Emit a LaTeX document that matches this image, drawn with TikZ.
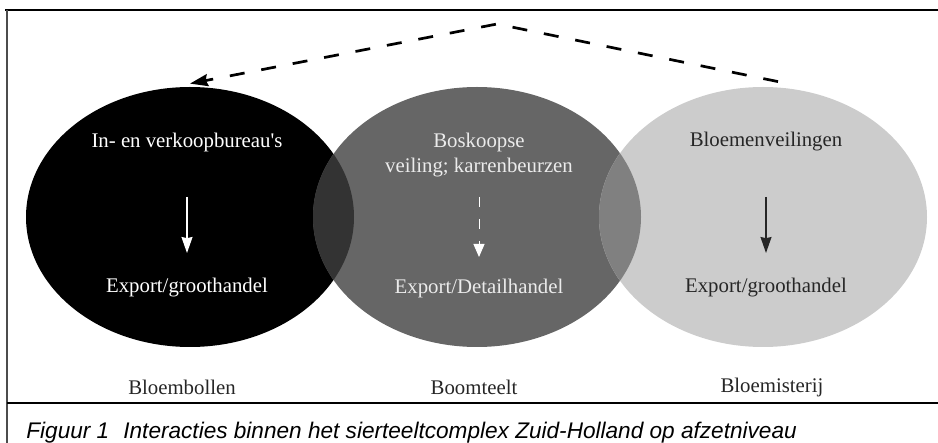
\documentclass[tikz,border=0pt]{standalone}
\usepackage{fontspec}
\setmainfont{Liberation Serif}[Ligatures=TeXOff]
\newfontfamily\figcapfont{Liberation Sans}
\usetikzlibrary{arrows.meta,shapes.geometric}
\definecolor{bollengray}{gray}{0}
\definecolor{boomgray}{gray}{0.4}
\definecolor{bloemgray}{gray}{0.8}
\definecolor{leftlap}{gray}{0.2}
\definecolor{rightlap}{gray}{0.5}
\tikzset{
	sector/.style={ellipse, minimum width=164pt, minimum height=130pt, inner sep=0pt},
	intext/.style={font=\fontsize{10.4}{12.5}\selectfont, align=center, inner sep=0pt},
	captext/.style={anchor=west, inner sep=0pt, font=\figcapfont\itshape\fontsize{11.3}{13}\selectfont},
	downarrow/.style={line width=0.65pt, -{Stealth[length=8pt, width=5.5pt, inset=0.6pt]}},
	topdash/.style={line width=1.35pt, dash pattern=on 7.5pt off 8.5pt, -{Stealth[length=9pt, width=6pt, inset=1pt]}}
}

\begin{document}
\begin{tikzpicture}[x=0.5pt, y=-0.5pt]
			%%%%% START %%%%%
			\useasboundingbox (0,0) rectangle (938,443);
			
			\draw[line width=1pt] (5,10) -- (938,10);
			\draw[line width=0.75pt, color=black!70] (7,10) -- (7,443);
			\draw[line width=1pt] (7,403) -- (938,403);
			
			\node[sector, fill=bollengray] (bollen) at (190,217) {};
			\node[sector, fill=boomgray] (boom) at (477,217) {};
			\node[sector, fill=bloemgray] (bloem) at (763,217) {};
			
			\begin{scope}
				\clip (bollen.center) ellipse [x radius=164, y radius=130];
				\fill[leftlap] (boom.center) ellipse [x radius=164, y radius=130];
			\end{scope}
			\begin{scope}
				\clip (boom.center) ellipse [x radius=164, y radius=130];
				\fill[rightlap] (bloem.center) ellipse [x radius=164, y radius=130];
			\end{scope}
			
			\node[intext, text=white] (bolin) at (187,143) {In- en verkoopbureau's};
			\node[intext, text=white] (bolex) at (187,288) {Export/groothandel};
			\draw[downarrow, white, shorten <=27pt, shorten >=17.5pt] (bolin.center) -- (bolex.center);
			
			\node[intext, text=white!92!black] (boomin) at (479,155) {Boskoopse\\veiling; karrenbeurzen};
			\node[intext, text=white!92!black] (boomex) at (479,288) {Export/Detailhandel};
			\draw[line width=0.5pt, white, dash pattern=on 5pt off 6pt, -{Triangle[length=6.5pt, width=5.5pt]}, shorten <=21pt, shorten >=15.5pt] (boomin.center) -- (boomex.center);
			
			\node[intext, text=black!85] (bloemin) at (766,142) {Bloemenveilingen};
			\node[intext, text=black!85] (bloemex) at (766,288) {Export/groothandel};
			\draw[downarrow, black!85, shorten <=27.5pt, shorten >=17.5pt] (bloemin.center) -- (bloemex.center);
			
			\coordinate (peak) at (497,24);
			\draw[topdash] ([xshift=7.5pt, yshift=2.5pt]bloem.north) -- (peak) -- ([yshift=1.5pt]bollen.north);
			
			\node[intext, text=black!85] (bollab) at (182,387) {Bloembollen};
			\node[intext, text=black!85] (boomlab) at (474,387) {Boomteelt};
			\node[intext, text=black!85] (bloemlab) at (772,387) {Bloemisterij};
			
			\node[captext] (fignum) at (26,433) {Figuur 1};
			\node[captext] (figtext) at (123,433) {Interacties binnen het sierteeltcomplex Zuid-Holland op afzetniveau};
			%%%%% END %%%%%
\end{tikzpicture}
\end{document}
